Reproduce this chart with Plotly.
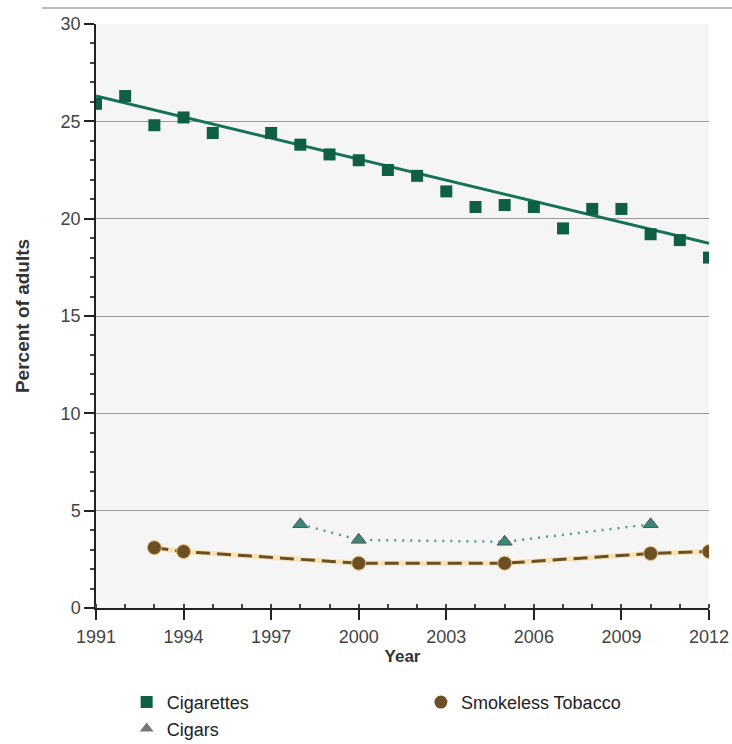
import plotly.graph_objects as go

cig_years = [1991, 1992, 1993, 1994, 1995, 1997, 1998, 1999, 2000, 2001, 2002,
             2003, 2004, 2005, 2006, 2007, 2008, 2009, 2010, 2011, 2012]
cig_values = [25.9, 26.3, 24.8, 25.2, 24.4, 24.4, 23.8, 23.3, 23.0, 22.5, 22.2,
              21.4, 20.6, 20.7, 20.6, 19.5, 20.5, 20.5, 19.2, 18.9, 18.0]
trend_years = [1991, 2012]
trend_values = [26.3, 18.73]

cigar_years = [1998, 2000, 2005, 2010]
cigar_values = [4.3, 3.5, 3.4, 4.3]

smokeless_years = [1993, 1994, 2000, 2005, 2010, 2012]
smokeless_values = [3.1, 2.9, 2.3, 2.3, 2.8, 2.9]

x_ticks = [1991, 1994, 1997, 2000, 2003, 2006, 2009, 2012]
y_ticks = [0, 5, 10, 15, 20, 25, 30]

GREEN = "#0f5f45"
BROWN = "#6b5025"
TEAL = "#3a8878"
FONT = "Liberation Sans, Arial, sans-serif"

fig = go.Figure()

# Cigarettes trend line
fig.add_trace(go.Scatter(x=trend_years, y=trend_values, mode="lines",
                         line=dict(color="#167256", width=3),
                         showlegend=False, hoverinfo="skip"))
fig.add_trace(go.Scatter(x=cig_years, y=cig_values, mode="markers",
                         marker=dict(symbol="square", size=12, color=GREEN),
                         showlegend=False, name="Cigarettes"))

# Smokeless halo + dashed line
fig.add_trace(go.Scatter(x=smokeless_years, y=smokeless_values, mode="lines",
                         line=dict(color="#f8e3b8", width=5),
                         showlegend=False, hoverinfo="skip"))
fig.add_trace(go.Scatter(x=smokeless_years, y=smokeless_values, mode="lines+markers",
                         line=dict(color=BROWN, width=3, dash="14px,7px"),
                         marker=dict(symbol="circle", size=14, color=BROWN,
                                     line=dict(color="#e8c27a", width=1)),
                         showlegend=False, name="Smokeless Tobacco"))

# Cigars
fig.add_trace(go.Scatter(x=cigar_years, y=cigar_values, mode="lines+markers",
                         line=dict(color="#4f9d8d", width=2.5, dash="2px,6px"),
                         marker=dict(symbol="triangle-up", size=13, color=TEAL,
                                     line=dict(color="#555555", width=1)),
                         showlegend=False, name="Cigars"))

# Legend entries
fig.add_trace(go.Scatter(x=[None], y=[None], mode="markers", name="Cigarettes",
                         legend="legend", legendgroup="a",
                         marker=dict(symbol="square", size=12, color=GREEN)))
fig.add_trace(go.Scatter(x=[None], y=[None], mode="markers", name="Cigars",
                         legend="legend", legendgroup="b",
                         marker=dict(symbol="triangle-up", size=12, color="#777777")))
fig.add_trace(go.Scatter(x=[None], y=[None], mode="markers", name="Smokeless Tobacco",
                         legend="legend2",
                         marker=dict(symbol="circle", size=13, color=BROWN)))

legend_common = dict(xanchor="left", yanchor="top", bgcolor="rgba(0,0,0,0)",
                     font=dict(size=18, color="#222222"), itemwidth=30)

fig.update_layout(
    width=732, height=744,
    margin=dict(l=96, r=23, t=24, b=136, autoexpand=False),
    paper_bgcolor="white",
    plot_bgcolor="#f5f5f5",
    font=dict(family=FONT, size=18, color="#333333"),
    legend=dict(x=0.05, y=-0.13, tracegroupgap=0, **legend_common),
    legend2=dict(x=0.53, y=-0.13, **legend_common),
    shapes=[dict(type="line", xref="paper", yref="paper", x0=-0.088, x1=1.04,
                 y0=1.0274, y1=1.0274, line=dict(color="#bbbbbb", width=2))],
)

fig.update_xaxes(
    range=[1991, 2012], tickvals=x_ticks, ticktext=[str(v) for v in x_ticks],
    showgrid=False, zeroline=False,
    showline=True, linecolor="#222222", linewidth=1.5,
    ticks="outside", ticklen=10, tickcolor="#222222", tickwidth=1.5,
    ticklabelstandoff=2,
    tickfont=dict(size=18, color="#444444"),
    minor=dict(dtick=1, ticks="inside", ticklen=4, tickcolor="#444444", showgrid=False),
    title=dict(text="<b>Year</b>", font=dict(size=17, color="#333333"), standoff=4),
)
fig.update_yaxes(
    range=[0, 30], tickvals=y_ticks,
    showgrid=True, gridcolor="#999999", gridwidth=1, zeroline=False,
    showline=True, linecolor="#222222", linewidth=1.5,
    ticks="outside", ticklen=10, tickcolor="#222222", tickwidth=1.5,
    tickfont=dict(size=18, color="#444444"),
    minor=dict(dtick=1, ticks="outside", ticklen=4, tickcolor="#444444", showgrid=False),
    title=dict(text="<b>Percent of adults</b>", font=dict(size=19, color="#333333"), standoff=26),
)

fig.write_html("out.html", config={"displayModeBar": False},
               post_script="document.body.style.margin='0px';")
